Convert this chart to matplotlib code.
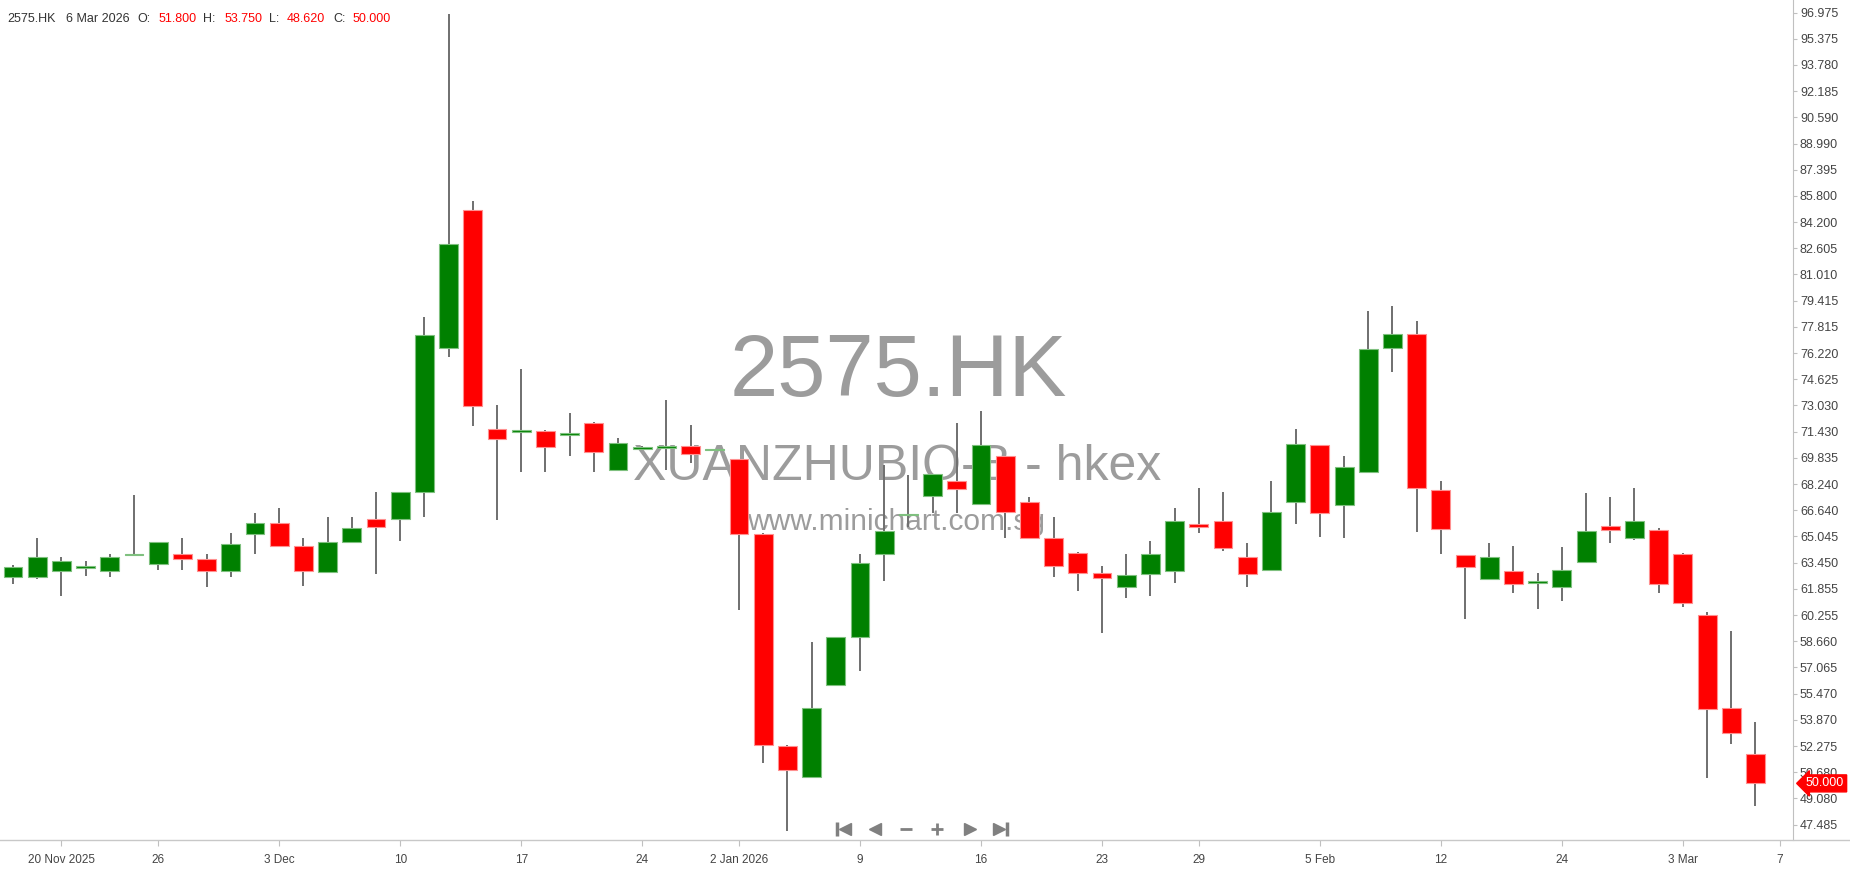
import matplotlib.pyplot as plt
import numpy as np

plt.rcParams['font.family'] = ['Liberation Sans', 'DejaVu Sans']

symbol = '2575.HK'
name = 'XUANZHUBIO-B - hkex'
site = 'www.minichart.com.sg'

# trading days on the chart (HKEX), 18 Nov 2025 .. 6 Mar 2026
days = {
    'Nov 2025': [18, 19, 20, 21, 24, 25, 26, 27, 28],
    'Dec 2025': [1, 2, 3, 4, 5, 8, 9, 10, 11, 12, 15, 16, 17, 18, 19, 22, 23, 24, 29, 30, 31],
    'Jan 2026': [2, 5, 6, 7, 8, 9, 12, 13, 14, 15, 16, 19, 20, 21, 22, 23, 26, 27, 28, 29, 30],
    'Feb 2026': [2, 3, 4, 5, 6, 9, 10, 11, 12, 13, 16, 20, 23, 24, 25, 26, 27],
    'Mar 2026': [2, 3, 4, 5, 6],
}
dates = [f'{d} {m}' for m, ds in days.items() for d in ds]

opens = [62.59, 62.58, 62.96, 63.12, 62.96, 63.90, 63.35, 64.00, 63.69, 62.96,
         65.18, 65.85, 64.48, 62.86, 64.69, 66.09, 66.09, 67.75, 76.51, 84.96,
         71.61, 71.44, 71.47, 71.23, 71.94, 69.08, 70.38, 70.44, 70.56, 70.29,
         69.78, 65.22, 52.28, 50.41, 55.97, 58.94, 63.98, 66.33, 67.53, 68.43,
         67.00, 69.95, 67.13, 64.93, 64.02, 62.80, 61.99, 62.74, 62.96, 65.79,
         65.99, 63.78, 62.99, 67.16, 70.64, 66.96, 69.00, 76.53, 77.40, 67.89,
         63.94, 62.45, 62.94, 62.22, 61.97, 63.49, 65.70, 64.95, 65.46, 63.96,
         60.28, 54.57, 51.80]
highs = [63.33, 64.93, 63.80, 63.57, 64.00, 67.59, 64.69, 64.93, 64.00, 65.24,
         66.46, 66.76, 64.93, 66.23, 66.23, 67.75, 67.75, 78.40, 96.90, 85.47,
         73.06, 75.23, 71.53, 72.55, 72.00, 71.03, 70.55, 73.36, 71.86, 70.33,
         69.78, 65.25, 52.34, 58.60, 58.90, 63.96, 69.40, 68.79, 68.85, 71.94,
         72.69, 69.95, 67.43, 66.25, 64.08, 63.25, 63.96, 64.77, 66.76, 67.98,
         67.74, 64.63, 68.43, 71.61, 70.64, 69.95, 78.79, 79.09, 78.17, 68.43,
         63.94, 64.63, 64.46, 62.80, 64.40, 67.68, 67.43, 67.98, 65.54, 64.04,
         60.42, 59.30, 53.75]
lows = [62.13, 62.47, 61.44, 62.65, 62.58, 63.90, 63.02, 63.02, 61.99, 62.58,
        64.00, 64.42, 62.05, 62.86, 64.69, 62.74, 64.79, 66.23, 75.98, 71.80,
        66.03, 69.00, 69.00, 69.97, 69.00, 69.08, 70.30, 69.10, 69.54, 70.27,
        60.56, 51.26, 47.10, 50.41, 55.97, 56.87, 62.35, 65.64, 66.46, 66.46,
        67.00, 64.93, 64.93, 62.59, 61.74, 59.14, 61.28, 61.44, 62.19, 65.24,
        64.18, 61.99, 62.99, 65.79, 65.03, 64.93, 69.00, 75.07, 65.32, 63.96,
        60.01, 62.45, 61.58, 60.61, 61.13, 63.49, 64.63, 64.85, 61.58, 60.73,
        50.31, 52.38, 48.62]
closes = [63.17, 63.80, 63.55, 63.16, 63.80, 63.95, 64.69, 63.69, 62.96, 64.57,
          65.85, 64.46, 62.96, 64.69, 65.54, 65.62, 67.75, 77.34, 82.89, 73.01,
          70.97, 71.47, 70.50, 71.27, 70.21, 70.72, 70.42, 70.48, 70.07, 70.31,
          65.18, 52.32, 50.81, 54.57, 58.90, 63.45, 65.36, 66.37, 68.85, 67.94,
          70.62, 66.54, 64.93, 63.26, 62.84, 62.51, 62.71, 63.96, 65.99, 65.64,
          64.32, 62.76, 66.52, 70.70, 66.47, 69.26, 76.49, 77.40, 68.00, 65.48,
          63.19, 63.78, 62.15, 62.32, 63.02, 65.38, 65.42, 65.99, 62.13, 60.99,
          54.51, 53.07, 50.00]

tick_dates = ['20 Nov 2025', '26 Nov 2025', '3 Dec 2025', '10 Dec 2025', '17 Dec 2025',
              '24 Dec 2025', '2 Jan 2026', '9 Jan 2026', '16 Jan 2026', '23 Jan 2026',
              '29 Jan 2026', '5 Feb 2026', '12 Feb 2026', '24 Feb 2026', '3 Mar 2026',
              '7 Mar 2026']
tick_labels = ['20 Nov 2025', '26', '3 Dec', '10', '17', '24', '2 Jan 2026', '9', '16',
               '23', '29', '5 Feb', '12', '24', '3 Mar', '7']

price_ticks = [96.975, 95.375, 93.780, 92.185, 90.590, 88.990, 87.395, 85.800, 84.200,
               82.605, 81.010, 79.415, 77.815, 76.220, 74.625, 73.030, 71.430, 69.835,
               68.240, 66.640, 65.045, 63.450, 61.855, 60.255, 58.660, 57.065, 55.470,
               53.870, 52.275, 50.680, 49.080, 47.485]

# layout in pixels
W, H = 1850, 874
plot_right = 1793
plot_bottom = 840
GREEN = '#008000'
RED = '#ff0000'

fig = plt.figure(figsize=(W / 100, H / 100), dpi=100)

# background layer for watermark + nav buttons
bg = fig.add_axes([0, 0, 1, 1])
bg.set_xlim(0, W)
bg.set_ylim(H, 0)
bg.axis('off')
bg.set_zorder(0)

ax = fig.add_axes([0, 1 - plot_bottom / H, plot_right / W, plot_bottom / H])
ax.set_zorder(1)
ax.patch.set_alpha(0)

o = np.array(opens)
h = np.array(highs)
l = np.array(lows)
c = np.array(closes)
x = np.arange(len(dates))
up = c >= o

ax.vlines(x, l, h, color='#6f6f6f', lw=1.4, zorder=2)
body_lo = np.minimum(o, c)
body_h = np.maximum(np.abs(c - o), 0.1)
ax.bar(x[up], body_h[up], bottom=body_lo[up], width=0.78, color=GREEN,
       edgecolor='#7fc07f', lw=0.8, zorder=3)
ax.bar(x[~up], body_h[~up], bottom=body_lo[~up], width=0.78, color=RED,
       edgecolor='#ff9090', lw=0.8, zorder=3)

ax.set_xlim(-0.537, 73.55)
ax.set_ylim(46.55, 97.737)

pos = [dates.index(d) if d in dates else len(dates) for d in tick_dates]
ax.set_xticks(pos)
ax.set_xticklabels(tick_labels)
ax.set_yticks(price_ticks)
ax.set_yticklabels([f'{v:.3f}' for v in price_ticks])
ax.yaxis.tick_right()
ax.tick_params(axis='y', length=3, width=0.8, color='#c0c0c0', pad=2,
               labelsize=9, labelcolor='#444444')
ax.tick_params(axis='x', length=4, width=0.8, color='#c0c0c0', pad=6,
               labelsize=8.5, labelcolor='#444444')
for s in ['top', 'left', 'bottom']:
    ax.spines[s].set_visible(False)
ax.spines['right'].set_color('#c0c0c0')
fig.add_artist(plt.Line2D([0, 1], [1 - plot_bottom / H] * 2, transform=fig.transFigure,
                          color='#c8c8c8', lw=1))

# watermark
wm = '#9c9c9c'
bg.text(898, 396, symbol, fontsize=62.5, color=wm, ha='center', va='baseline')
bg.text(897, 480, name, fontsize=36, color=wm, ha='center', va='baseline')
bg.text(896, 530, site, fontsize=21.5, color=wm, ha='center', va='baseline')

# navigation buttons
nav = '#808080'
ny = 829
bg.plot([837], [ny], marker='|', ms=10, mew=2.5, color=nav)
bg.plot([845], [ny], marker='<', ms=8, color=nav, mec=nav)
bg.plot([875], [ny], marker='<', ms=8, color=nav, mec=nav)
bg.plot([906], [ny], marker='_', ms=9, mew=2, color=nav)
bg.plot([937], [ny], marker='+', ms=9, mew=2, color=nav)
bg.plot([970], [ny], marker='>', ms=8, color=nav, mec=nav)
bg.plot([999], [ny], marker='>', ms=8, color=nav, mec=nav)
bg.plot([1007], [ny], marker='|', ms=10, mew=2.5, color=nav)

# header line with last bar
hy = 1 - 22 / H
fs = 9
dark = '#333333'
fig.text(7 / W, hy, symbol, fontsize=fs, color=dark, va='baseline')
fig.text(66 / W, hy, dates[-1], fontsize=fs, color=dark, va='baseline')
for lab, val, xl, xv in [('O:', opens[-1], 137, 159), ('H:', highs[-1], 203, 225),
                         ('L:', lows[-1], 269, 287), ('C:', closes[-1], 333, 353)]:
    fig.text(xl / W, hy, lab, fontsize=fs, color=dark, va='baseline')
    fig.text(xv / W, hy, f'{val:.3f}', fontsize=fs, color=RED, va='baseline')

# last price tag on the axis
ax.text(1 + 32 / plot_right, closes[-1], f'{closes[-1]:.3f}', transform=ax.get_yaxis_transform(),
        ha='center', va='center', fontsize=9, color='white', clip_on=False, zorder=5,
        bbox=dict(boxstyle='larrow,pad=0.2', fc=RED, ec=RED))

fig.savefig('out.png', dpi=100)
